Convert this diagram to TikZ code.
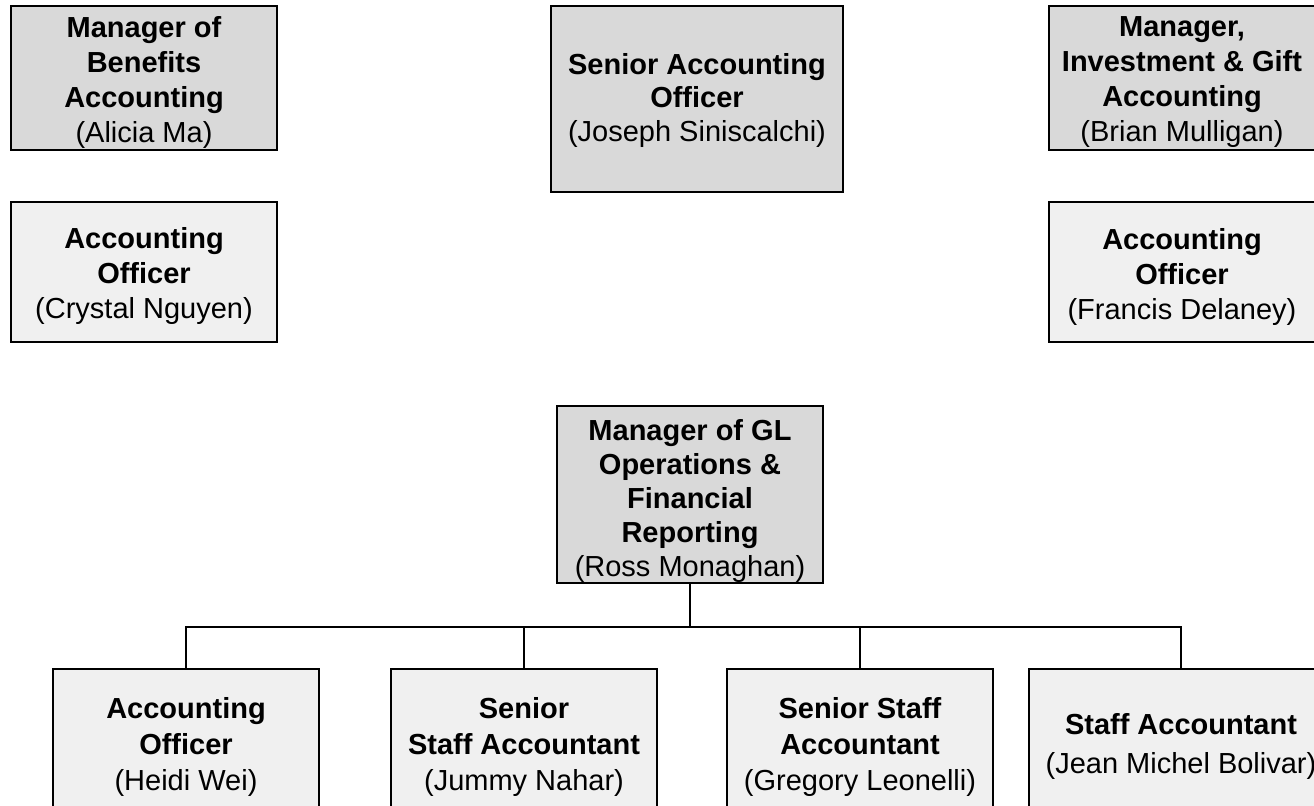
\documentclass[tikz,border=0pt]{standalone}
\usepackage{fontspec}
\setmainfont{Liberation Sans}
\definecolor{mgrfill}{HTML}{D9D9D9}
\definecolor{stafffill}{HTML}{F0F0F0}
\begin{document}
\begin{tikzpicture}[x=0.5pt,y=-0.5pt,
  box/.style={draw=black, line width=1pt, inner sep=0pt},
  mgr/.style={box, fill=mgrfill},
  staff/.style={box, fill=stafffill},
  txt/.style={align=center, inner sep=0pt, font=\fontsize{14.5pt}{17.5pt}\selectfont},
  txttight/.style={align=center, inner sep=0pt, font=\fontsize{14.5pt}{16.9pt}\selectfont},
  txtloose/.style={align=center, inner sep=0pt, font=\fontsize{14.5pt}{18.2pt}\selectfont},
  txtwide/.style={align=center, inner sep=0pt, font=\fontsize{14.5pt}{19.5pt}\selectfont},
  link/.style={draw=black, line width=0.75pt},
  stem/.style={draw=black, line width=1.1pt}]
\useasboundingbox (0,0) rectangle (1314,806);
\clip (0,0) rectangle (1314,806);
\fill[white] (0,0) rectangle (1314,806);
% top row boxes
\node[mgr, minimum width=133pt, minimum height=72.2pt] (alicia) at (144,78) {};
\node[staff, minimum width=133pt, minimum height=70pt] (crystal) at (144,272) {};
\node[mgr, minimum width=146pt, minimum height=93pt] (joseph) at (697,99) {};
\node[mgr, minimum width=133pt, minimum height=72.2pt] (brian) at (1182,78) {};
\node[staff, minimum width=133pt, minimum height=70pt] (francis) at (1182,272) {};
% middle box
\node[mgr, minimum width=133pt, minimum height=88.5pt] (ross) at (690,494.5) {};
% bottom row boxes
\node[staff, minimum width=133pt, minimum height=74pt] (heidi) at (186,743) {};
\node[staff, minimum width=133pt, minimum height=74pt] (jummy) at (524,743) {};
\node[staff, minimum width=133pt, minimum height=74pt] (gregory) at (860,743) {};
\node[staff, minimum width=152pt, minimum height=74pt] (jean) at (1181,743) {};
% texts
\node[txt] (alicia-t) at (144,83)
  {\textbf{Manager of}\\\textbf{Benefits}\\\textbf{Accounting}\\(Alicia Ma)};
\node[txt] (crystal-t) at (144,276.5)
  {\textbf{Accounting}\\\textbf{Officer}\\(Crystal Nguyen)};
\node[txttight] (joseph-t) at (697,100.5)
  {\textbf{Senior Accounting}\\\textbf{Officer}\\(Joseph Siniscalchi)};
\node[txt] (brian-t) at (1182,82)
  {\textbf{Manager,}\\\textbf{Investment \& Gift}\\\textbf{Accounting}\\(Brian Mulligan)};
\node[txt] (francis-t) at (1182,277.5)
  {\textbf{Accounting}\\\textbf{Officer}\\(Francis Delaney)};
\node[txttight] (ross-t) at (690,501)
  {\textbf{Manager of GL}\\\textbf{Operations \&}\\\textbf{Financial}\\\textbf{Reporting}\\(Ross Monaghan)};
\node[txtloose] (heidi-t) at (186,747)
  {\textbf{Accounting}\\\textbf{Officer}\\(Heidi Wei)};
\node[txtloose] (jummy-t) at (524,747)
  {\textbf{Senior}\\\textbf{Staff Accountant}\\(Jummy Nahar)};
\node[txtloose] (gregory-t) at (860,747)
  {\textbf{Senior Staff}\\\textbf{Accountant}\\(Gregory Leonelli)};
\node[txtwide] (jean-t) at (1181,746)
  {\textbf{Staff Accountant}\\(Jean Michel Bolivar)};
% connectors
\coordinate (bus) at (690,627);
\draw[stem] (ross.south) -- (bus);
\draw[link] (bus) -| (heidi.north);
\draw[link] (bus) -| (jummy.north);
\draw[link] (bus) -| (gregory.north);
\draw[link] (bus) -| (jean.north);
\end{tikzpicture}
\end{document}
